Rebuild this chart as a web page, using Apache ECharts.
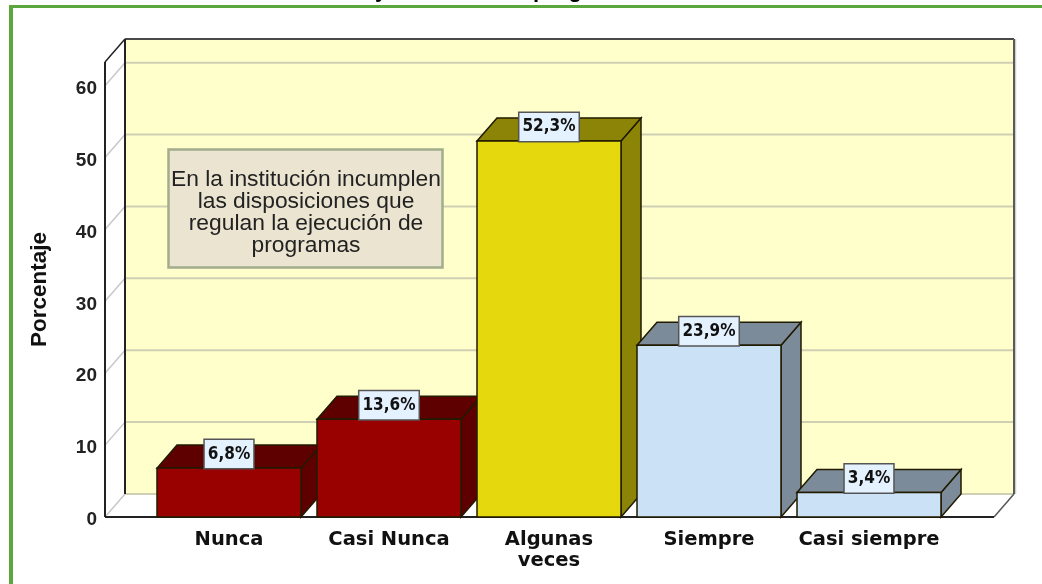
<!DOCTYPE html>
<html><head><meta charset="utf-8">
<style>html,body{margin:0;padding:0;background:#fff;overflow:hidden}#c{width:1042px;height:584px}</style>
<script src="https://cdn.jsdelivr.net/npm/echarts@6/dist/echarts.min.js"></script>
</head><body><div id="c"></div>
<script>
const categories = ['Nunca', 'Casi Nunca', 'Algunas\nveces', 'Siempre', 'Casi siempre'];
const percentValues = [6.8, 13.6, 52.3, 23.9, 3.4];
const frontColors = ['#990000', '#990000', '#E5D80D', '#CBE1F6', '#CBE1F6'];
const darkColors = ['#5E0000', '#5E0000', '#8C8407', '#7C8B99', '#7C8B99'];
const gridValues = [0, 10, 20, 30, 40, 50, 60];
const axisMax = 63.3;
const noteLines = 'En la institución incumplen\nlas disposiciones que\nregulan la ejecución de\nprogramas';
const DX = 20, DY = 23, PADL = 44, PADR = 45, BARW = 144;

const chart = echarts.init(document.getElementById('c'), null, {renderer: 'canvas'});
function poly(points, fill, stroke, lw) {
  return {type: 'polygon', shape: {points}, style: {fill, stroke: stroke || null, lineWidth: lw || 0}};
}
function line(x1, y1, x2, y2, stroke, lw) {
  return {type: 'line', shape: {x1, y1, x2, y2}, style: {stroke, lineWidth: lw}};
}
function renderFrame(params, api) {
  if (params.dataIndex !== 0) return {type: 'group', children: []};
  const cs = params.coordSys;
  const L = cs.x - PADL, R = cs.x + cs.width + PADR;
  const top = cs.y, bot = cs.y + cs.height;
  const kids = [
    poly([[L + DX, top - DY], [R + DX, top - DY], [R + DX, bot - DY], [L + DX, bot - DY]], '#FFFFCC'),
    poly([[L, top], [L + DX, top - DY], [L + DX, bot - DY], [L, bot]], '#FFFFFF'),
    poly([[L, bot], [L + DX, bot - DY], [R + DX, bot - DY], [R, bot]], '#FFFFFF')
  ];
  gridValues.forEach(v => {
    const y = api.coord([0, v])[1];
    kids.push(line(L + DX, y - DY, R + DX, y - DY, '#CFCFB4', 2));
    kids.push(line(L, y, L + DX, y - DY, '#C8C8C8', 1.5));
  });
  kids.push(line(R + DX + 1.5, top - DY, R + DX + 1.5, bot - DY, '#CFCFCF', 1.5));
  kids.push(line(R, bot, R + DX, bot - DY, '#555555', 1.5));
  kids.push(line(L + DX, top - DY, R + DX, top - DY, '#4A4A4A', 2));
  kids.push(line(R + DX, top - DY, R + DX, bot - DY, '#5A5A5A', 2));
  kids.push(line(L + DX, top - DY, L + DX, bot - DY, '#222222', 2));
  kids.push(line(L, top, L + DX, top - DY, '#222222', 1.5));
  kids.push(line(L, top, L, bot, '#222222', 2));
  kids.push(line(L, bot, R, bot, '#222222', 2));
  return {type: 'group', children: kids};
}
function renderBar(params, api) {
  const i = api.value(0), v = api.value(1);
  const p = api.coord([i, v]), b = api.coord([i, 0]);
  const x0 = p[0] - BARW / 2, x1 = p[0] + BARW / 2, yt = p[1], yb = b[1];
  const edge = '#201A00';
  const txt = v.toFixed(1).replace('.', ',') + '%';
  return {type: 'group', children: [
    poly([[x1, yt], [x1 + DX, yt - DY], [x1 + DX, yb - DY], [x1, yb]], darkColors[i], edge, 1.5),
    poly([[x0, yt], [x0 + DX, yt - DY], [x1 + DX, yt - DY], [x1, yt]], darkColors[i], edge, 1.5),
    {type: 'rect', shape: {x: x0, y: yt, width: BARW, height: yb - yt},
     style: {fill: frontColors[i], stroke: edge, lineWidth: 1.5}},
    {type: 'text', x: p[0], y: yt - 14, style: {
      text: txt, align: 'center', verticalAlign: 'middle', fill: '#111111',
      font: 'bold 17px "DejaVu Sans Condensed","DejaVu Sans"',
      backgroundColor: '#E4F2FF', borderColor: '#555555', borderWidth: 1.5,
      padding: [7, 3, 4, 3]
    }}
  ]};
}
const barData = percentValues.map((v, i) => [i, v]);
chart.setOption({
  animation: false,
  backgroundColor: '#FFFFFF',
  grid: {left: 149, width: 800, top: 62, height: 455},
  xAxis: {
    type: 'category', data: categories,
    axisLine: {show: false}, axisTick: {show: false}, splitLine: {show: false},
    axisLabel: {margin: 12, fontFamily: 'DejaVu Sans', fontWeight: 'bold', fontSize: 19.5, color: '#111111', lineHeight: 21, interval: 0}
  },
  yAxis: {
    type: 'value', min: 0, max: axisMax, interval: 10, offset: PADL,
    name: 'Porcentaje', nameLocation: 'middle', nameGap: 54, nameRotate: 90,
    nameTextStyle: {fontFamily: 'Liberation Sans', fontWeight: 'bold', fontSize: 22.5, color: '#111111'},
    axisLine: {show: false}, axisTick: {show: false}, splitLine: {show: false},
    axisLabel: {margin: 8, showMaxLabel: false, formatter: '{t|{value}}',
      rich: {t: {padding: [6, 0, 0, 0], fontFamily: 'Liberation Sans', fontWeight: 'bold', fontSize: 19, color: '#222222'}}}
  },
  series: [
    {type: 'custom', name: 'marco', coordinateSystem: 'cartesian2d', z: 1, silent: true, renderItem: renderFrame, data: [[0, 0]], clip: false},
    {type: 'custom', name: 'Porcentaje', coordinateSystem: 'cartesian2d', z: 3, renderItem: renderBar, data: barData, clip: false, encode: {x: 0, y: 1}}
  ],
  graphic: [
    {type: 'rect', z: 10, shape: {x: 168.5, y: 149.5, width: 274, height: 118}, style: {fill: '#EAE4D0', stroke: '#A3AD8C', lineWidth: 2.5}},
    {type: 'text', z: 11, x: 306, y: 213, style: {text: noteLines, align: 'center', verticalAlign: 'middle', fill: '#222222', font: '22.8px "Liberation Sans"', lineHeight: 22}},
    {type: 'rect', z: 12, shape: {x: 9, y: 5, width: 1033, height: 3}, style: {fill: '#5BA63F'}},
    {type: 'rect', z: 12, shape: {x: 9, y: 5, width: 4, height: 579}, style: {fill: '#5BA63F'}},
    {type: 'text', z: 11, x: 375, y: -9, style: {text: 'y', verticalAlign: 'middle', fill: '#000', font: 'bold 22px "Liberation Sans"'}},
    {type: 'text', z: 11, x: 533, y: -9, style: {text: 'prog', verticalAlign: 'middle', fill: '#000', font: 'bold 22px "Liberation Sans"'}}
  ]
});
</script></body></html>
